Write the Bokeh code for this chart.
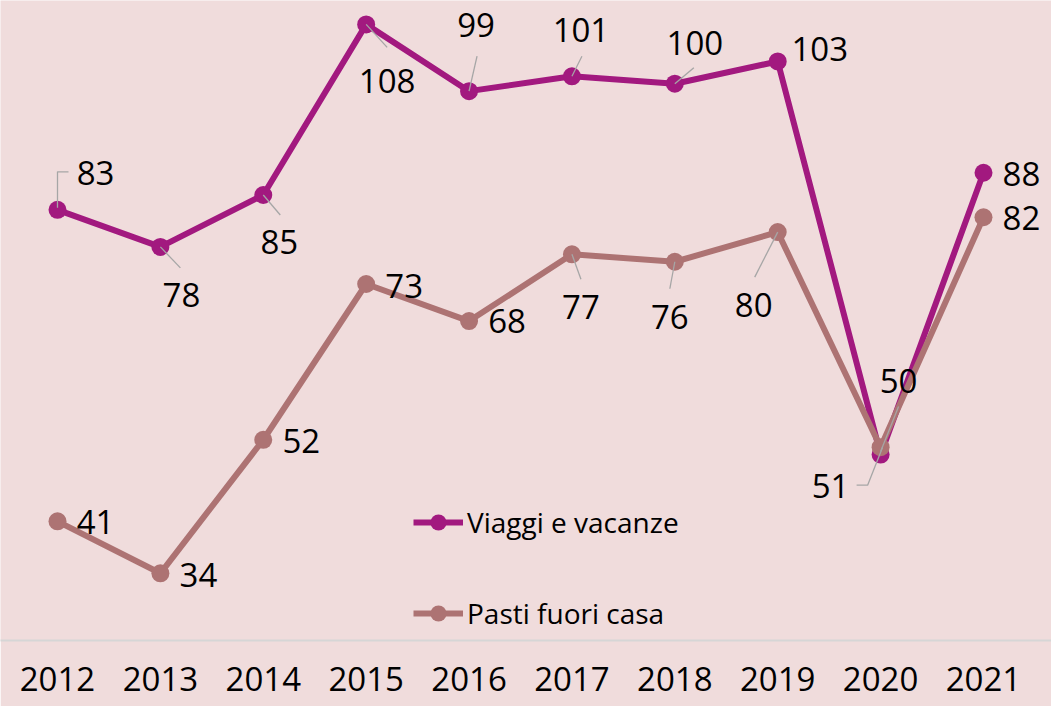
from bokeh.plotting import figure
from bokeh.models import ColumnDataSource, Legend, LegendItem, FixedTicker, Range1d
from bokeh.core.properties import value
from bokeh.embed import file_html
from bokeh.resources import INLINE

# ---- data ----
years = [2012, 2013, 2014, 2015, 2016, 2017, 2018, 2019, 2020, 2021]
viaggi = [83, 78, 85, 108, 99, 101, 100, 103, 50, 88]
pasti = [41, 34, 52, 73, 68, 77, 76, 80, 51, 82]
series_names = ["Viaggi e vacanze", "Pasti fuori casa"]

# ---- layout / style (screen-pixel offsets of the data labels) ----
viaggi_dx = [38, 21, 16, 21, 7, 9, 20, 42, 18, 38]
viaggi_dy = [-37, 48, 47, 57, -66, -46, -41, -12, -74, 1]
pasti_dx = [38, 38, 38, 38, 38, 9, -5, -24, -50, 38]
pasti_dy = [1, 2, 1, 2, 0, 53, 55, 73, 39, 1]
# leader lines: (index, [(dx, dy), ...]) in screen pixels from the point
viaggi_leaders = [(0, [(0, -2), (0, -38), (11, -38)]), (1, [(0, 0), (20, 21)]),
                  (2, [(0, 0), (17, 20)]), (3, [(0, 0), (21, 23)]),
                  (4, [(0, 0), (8, -35)]), (5, [(0, 0), (10, -20)]),
                  (6, [(0, 0), (19, -16)]), (8, [(0, -3), (18, -48)])]
pasti_leaders = [(5, [(0, 0), (9, 25)]), (6, [(0, 0), (-5, 27)]),
                 (7, [(0, 0), (-23, 45)]), (8, [(2, 0), (-13, 38), (-24, 38)])]

C_VIAGGI = "#A2197F"
C_PASTI = "#AD7373"
BG = "#F0DCDC"
FONT = "Open Sans"

W, H = 1051, 706
BOTTOM = 66
FRAME_W, FRAME_H = W, H - BOTTOM
X0, X1 = 2011.446, 2021.661
Y0, Y1 = 24.94, 111.22
PX_X = FRAME_W / (X1 - X0)
PX_Y = FRAME_H / (Y1 - Y0)

p = figure(width=W, height=H, output_backend="svg", toolbar_location=None,
           x_range=Range1d(X0, X1), y_range=Range1d(Y0, Y1),
           y_axis_location=None, min_border_left=0, min_border_right=0,
           min_border_top=0, min_border_bottom=BOTTOM)
p.background_fill_color = BG
p.border_fill_color = BG
p.outline_line_color = None
p.grid.visible = False

xa = p.xaxis[0]
xa.ticker = FixedTicker(ticks=years)
xa.major_tick_line_color = None
xa.minor_tick_line_color = None
xa.axis_line_color = "#D6D6D6"
xa.axis_line_width = 2
xa.major_label_text_font = FONT
xa.major_label_text_font_size = "33px"
xa.major_label_text_color = "#000000"
xa.major_label_standoff = 20

src_v = ColumnDataSource(dict(x=years, y=viaggi, t=[str(v) for v in viaggi], dx=viaggi_dx, dy=viaggi_dy))
src_p = ColumnDataSource(dict(x=years, y=pasti, t=[str(v) for v in pasti], dx=pasti_dx, dy=pasti_dy))

lv = p.line("x", "y", source=src_v, line_color=C_VIAGGI, line_width=6, line_join="round")
sv = p.scatter("x", "y", source=src_v, size=18, fill_color=C_VIAGGI, line_color=None)
lp = p.line("x", "y", source=src_p, line_color=C_PASTI, line_width=6, line_join="round")
sp = p.scatter("x", "y", source=src_p, size=18, fill_color=C_PASTI, line_color=None)


def leader_coords(xs, ys, leaders):
    lx, ly = [], []
    for i, pts in leaders:
        lx.append([xs[i] + dx / PX_X for dx, dy in pts])
        ly.append([ys[i] - dy / PX_Y for dx, dy in pts])
    return lx, ly


vx, vy = leader_coords(years, viaggi, viaggi_leaders)
px_, py_ = leader_coords(years, pasti, pasti_leaders)
p.multi_line(vx + px_, vy + py_, line_color="#A6A6A6", line_width=1.3)

for src in (src_v, src_p):
    p.text("x", "y", text="t", source=src, x_offset="dx", y_offset="dy",
           text_font=value(FONT), text_font_size="33px", text_color="#000000",
           text_align="center", text_baseline="middle")

legend = Legend(items=[LegendItem(label=series_names[0], renderers=[lv, sv]),
                       LegendItem(label=series_names[1], renderers=[lp, sp])],
                location=(413, 7), orientation="vertical")
legend.glyph_width = 50
legend.glyph_height = 40
legend.label_height = 40
legend.spacing = 51
legend.padding = 0
legend.margin = 0
legend.label_standoff = 4
legend.border_line_color = None
legend.background_fill_alpha = 0
legend.label_text_font = FONT
legend.label_text_font_size = "28px"
legend.label_text_color = "#000000"
legend.label_text_baseline = "middle"
p.add_layout(legend, "center")

open("out.html", "w").write(file_html(p, INLINE))
